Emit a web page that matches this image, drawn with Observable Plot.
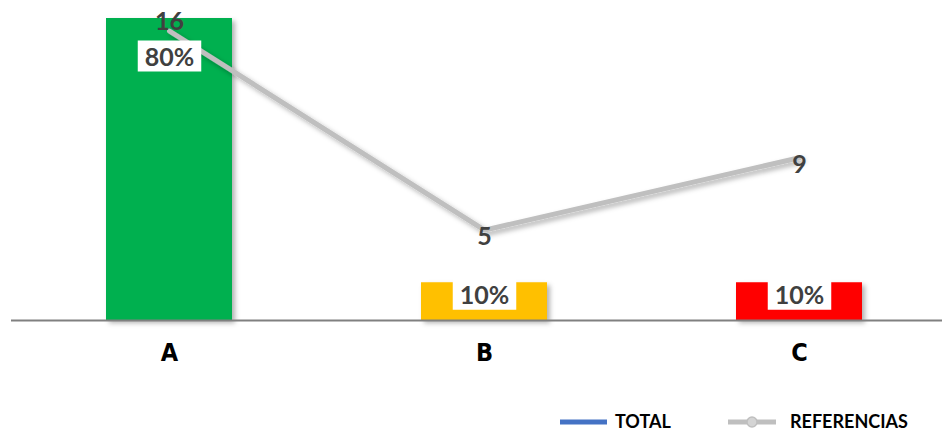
<!DOCTYPE html>
<html><head><meta charset="utf-8">
<script src="https://cdn.jsdelivr.net/npm/d3@7"></script>
<script src="https://cdn.jsdelivr.net/npm/@observablehq/plot@0.6"></script>
<style>
html,body{margin:0;padding:0;background:#fff;overflow:hidden;}
#wrap{width:942px;height:432px;overflow:hidden;position:relative;}
#chart{position:absolute;left:0;top:0;width:956px;}
#chart svg{max-width:none !important;}
#legend{position:absolute;left:0;top:400px;width:942px;height:32px;}
</style></head><body>
<div id="wrap"><div id="chart"></div><div id="legend"></div></div>
<script>
// ---- data ----
const categories = ["A", "B", "C"];
const totalShare = [0.80, 0.10, 0.10];
const shareLabels = ["80%", "10%", "10%"];
const referencias = [16, 5, 9];
const seriesNames = ["TOTAL", "REFERENCIAS"];

// ---- styling ----
const barColors = ["#00B050", "#FFC000", "#FF0000"];
const PRIMARY_MAX = 0.8;     // primary axis top
const REF_AXIS_MAX = 16.7;   // secondary axis value aligned with PRIMARY_MAX
const axisFont = '"Liberation Sans Narrow", "Arial Narrow", "DejaVu Sans Condensed", sans-serif';

const data = categories.map((c, i) => ({cat: c, share: totalShare[i], label: shareLabels[i], ref: referencias[i]}));
const refY = d => d.ref / REF_AXIS_MAX * PRIMARY_MAX;
const labelStyle = {fontFamily: "Lato", fontSize: 25, fontWeight: "bold", fill: "#404040"};
const maxRef = d3.max(referencias);

const plot = Plot.plot({
  width: 956, height: 400,
  marginLeft: 11, marginRight: 0, marginTop: 18, marginBottom: 80,
  x: {domain: categories, paddingInner: 0.6, paddingOuter: 0.3, label: null},
  y: {domain: [0, PRIMARY_MAX], axis: null},
  color: {domain: categories, range: barColors},
  marks: [
    Plot.barY(data, {x: "cat", y: "share", fill: "cat"}),
    Plot.ruleY([0], {stroke: "#808080", strokeWidth: 2}),
    Plot.axisX({tickSize: 0, tickPadding: 23, fontSize: 25, fontWeight: "bold", fontFamily: axisFont, fill: "#000", label: null}),
    Plot.line(data, {x: "cat", y: refY, stroke: "#BFBFBF", strokeWidth: 5}),
    Plot.text(data.filter(d => d.share >= 0.5), {x: "cat", y: "share", text: "label", dy: 39, ...labelStyle}),
    Plot.text(data.filter(d => d.share < 0.5), {x: "cat", y: "share", text: "label", dy: 13, ...labelStyle}),
    Plot.text(data.filter(d => d.ref === maxRef), {x: "cat", y: refY, text: d => String(d.ref), dy: -9, ...labelStyle}),
    Plot.text(data.filter(d => d.ref !== maxRef), {x: "cat", y: refY, text: d => String(d.ref), dy: 7, ...labelStyle})
  ]
});
plot.style.maxWidth = "none";
document.getElementById("chart").append(plot);

// shadows and label boxes
const ns = "http://www.w3.org/2000/svg";
const defs = document.createElementNS(ns, "defs");
const filt = document.createElementNS(ns, "filter");
filt.setAttribute("id", "sh");
filt.setAttribute("x", "-20%"); filt.setAttribute("y", "-20%");
filt.setAttribute("width", "150%"); filt.setAttribute("height", "150%");
const fe = document.createElementNS(ns, "feDropShadow");
fe.setAttribute("dx", "3"); fe.setAttribute("dy", "3"); fe.setAttribute("stdDeviation", "2.5");
fe.setAttribute("flood-color", "#000"); fe.setAttribute("flood-opacity", "0.3");
filt.append(fe); defs.append(filt); plot.prepend(defs);

plot.querySelectorAll('g[aria-label="bar"], g[aria-label="line"]').forEach(g => g.setAttribute("filter", "url(#sh)"));
plot.querySelectorAll('g[aria-label="x-axis tick label"] text').forEach(t => {
  t.style.fontSize = "25px"; t.style.fontWeight = "bold"; t.style.fontFamily = axisFont;
});
const textGroups = plot.querySelectorAll('g[aria-label="text"]');
[textGroups[0], textGroups[1]].forEach(g => g && g.querySelectorAll("text").forEach(t => {
  const b = t.getBBox();
  const r = document.createElementNS(ns, "rect");
  r.setAttribute("x", b.x - 7); r.setAttribute("y", b.y);
  r.setAttribute("width", b.width + 14); r.setAttribute("height", b.height + 1);
  r.setAttribute("fill", "#fff");
  if (t.getAttribute("transform")) r.setAttribute("transform", t.getAttribute("transform"));
  t.parentNode.insertBefore(r, t);
}));

// legend
document.getElementById("legend").innerHTML = `
<svg width="942" height="32" style="font-family:Lato;font-weight:bold;font-size:18px">
  <line x1="560" x2="607" y1="22" y2="22" stroke="#4472C4" stroke-width="5"/>
  <text x="615" y="28" fill="#000">${seriesNames[0]}</text>
  <line x1="728" x2="776" y1="22" y2="22" stroke="#BFBFBF" stroke-width="5"/>
  <circle cx="752" cy="22" r="5" fill="#D4D4D4" stroke="#BFBFBF" stroke-width="1.5"/>
  <text x="790" y="28" fill="#000">${seriesNames[1]}</text>
</svg>`;
</script>
</body></html>
